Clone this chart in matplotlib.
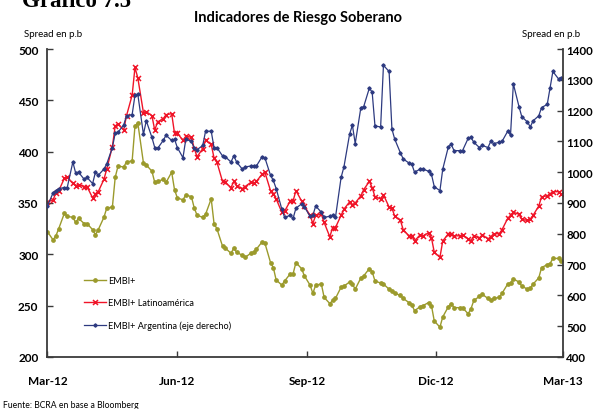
import numpy as np
import pandas as pd
import matplotlib
matplotlib.use("Agg")
import matplotlib.pyplot as plt

# values every second business day, Mar-2012 .. Mar-2013
embi = [322, 314, 318, 325, 340, 337, 336, 331, 335, 330,
        330, 324, 319, 324, 336, 345, 346, 375, 386, 385,
        390, 391, 425, 428, 389, 387, 381, 370, 371, 373,
        370, 380, 363, 355, 353, 358, 356, 345, 338, 336,
        339, 354, 330, 325, 308, 306, 301, 306, 302, 299,
        297, 301, 302, 305, 312, 311, 292, 287, 275, 270,
        274, 281, 281, 292, 286, 279, 270, 262, 270, 271,
        258, 252, 255, 257, 268, 269, 273, 271, 266, 277,
        279, 286, 283, 274, 272, 271, 266, 264, 262, 260,
        257, 253, 251, 245, 249, 250, 253, 250, 235, 229,
        239, 249, 252, 248, 248, 248, 242, 247, 255, 259,
        261, 257, 255, 257, 258, 262, 271, 272, 276, 273,
        269, 266, 267, 271, 277, 287, 290, 291, 296, 296,
        293]

latam = [351, 353, 360, 362, 374, 375, 369, 367, 368, 366,
         366, 355, 359, 361, 373, 383, 405, 425, 427, 421,
         435, 455, 482, 472, 438, 439, 435, 421, 429, 432,
         436, 437, 418, 418, 411, 415, 414, 403, 395, 403,
         411, 407, 394, 390, 371, 370, 365, 371, 367, 364,
         366, 370, 369, 371, 378, 380, 362, 359, 354, 341,
         342, 352, 352, 362, 352, 347, 338, 330, 338, 339,
         331, 317, 326, 326, 338, 344, 351, 348, 350, 357,
         363, 371, 365, 356, 354, 358, 346, 345, 337, 333,
         324, 318, 318, 313, 319, 318, 321, 316, 302, 297,
         313, 320, 320, 318, 318, 319, 315, 313, 318, 316,
         319, 315, 317, 320, 320, 324, 335, 338, 341, 339,
         334, 333, 334, 338, 347, 356, 357, 359, 361, 361,
         359]

argentina = [890, 933, 940, 947, 950, 950, 1033, 997, 1000, 977,
             983, 963, 1000, 990, 1010, 1027, 1080, 1127, 1130, 1153,
             1183, 1187, 1250, 1253, 1123, 1167, 1113, 1080, 1077, 1103,
             1120, 1103, 1107, 1080, 1047, 1107, 1100, 1077, 1073, 1087,
             1133, 1133, 1080, 1080, 1053, 1050, 1033, 1053, 1033, 1010,
             1017, 1020, 1020, 1020, 1050, 1047, 990, 973, 947, 880,
             853, 860, 850, 883, 897, 887, 857, 860, 890, 870,
             853, 857, 860, 853, 983, 1017, 1123, 1153, 1093, 1210,
             1213, 1273, 1260, 1150, 1147, 1347, 1327, 1140, 1107, 1063,
             1043, 1030, 1027, 1000, 1010, 1010, 1003, 993, 953, 940,
             1010, 1083, 1090, 1070, 1070, 1070, 1110, 1113, 1097, 1080,
             1087, 1080, 1100, 1093, 1097, 1100, 1133, 1120, 1287, 1213,
             1180, 1163, 1147, 1167, 1183, 1210, 1220, 1273, 1327, 1303,
             1307]

dates = pd.bdate_range("2012-03-01", "2013-03-01")[::2]

tick_dates = pd.to_datetime(["2012-03-01", "2012-06-01", "2012-09-01",
                             "2012-12-01", "2013-03-01"])
tick_labels = ["Mar-12", "Jun-12", "Sep-12", "Dic-12", "Mar-13"]

c_embi = "#9b9a2c"
c_latam = "#f01428"
c_arg = "#2d3a80"
spine_c = "#3a3a3a"
font = "Lato"

fig = plt.figure(figsize=(5.93, 4.10), dpi=100)
ax = fig.add_axes([0.080, 0.127, 0.869, 0.751])
ax2 = ax.twinx()

l1, = ax.plot(dates, embi, color=c_embi, lw=1.0, marker="o", ms=2.4,
              mec=c_embi, label="EMBI+")
l2, = ax.plot(dates, latam, color=c_latam, lw=1.0, marker="x", ms=3.6,
              mew=1.1, label="EMBI+ Latinoamérica")
l3, = ax2.plot(dates, argentina, color=c_arg, lw=0.9, marker="D", ms=1.7,
               label="EMBI+ Argentina (eje derecho)")

ax.set_xlim(tick_dates[0], tick_dates[-1])
ax.set_ylim(200, 500)
ax2.set_ylim(400, 1400)
ax.set_yticks(np.arange(200, 501, 50))
ax2.set_yticks(np.arange(400, 1401, 100))
ax.set_xticks(tick_dates)
ax.set_xticklabels(tick_labels)

for a in (ax, ax2):
    a.spines["top"].set_visible(False)
    for s in a.spines.values():
        s.set_color(spine_c)
        s.set_linewidth(1.3)
ax.spines["right"].set_visible(False)
ax2.spines["left"].set_visible(False)
ax2.spines["bottom"].set_visible(False)

ax.tick_params(axis="y", direction="in", length=4, width=1, color=spine_c,
               pad=6.5, labelsize=8.5)
ax.tick_params(axis="x", direction="in", length=4, width=1, color=spine_c,
               pad=13, labelsize=8.5)
ax2.tick_params(axis="y", direction="in", length=4, width=1, color=spine_c,
                pad=2.5, labelsize=8.3)
for lab in ax.get_xticklabels() + ax.get_yticklabels() + ax2.get_yticklabels():
    lab.set_fontweight("bold")
    lab.set_fontfamily(font)

leg = ax.legend(handles=[l1, l2, l3], loc="upper left",
                bbox_to_anchor=(0.055, 0.29), frameon=False,
                prop={"family": font, "size": 6.6}, handlelength=2.4,
                handletextpad=0.2, labelspacing=1.45, numpoints=1)

fig.text(0.503, 0.957, "Indicadores de Riesgo Soberano", ha="center",
         va="center", fontsize=10.5, fontweight="bold", family=font)
fig.text(0.040, 0.917, "Spread en p.b", ha="left", va="center",
         fontsize=7, family=font)
fig.text(0.880, 0.917, "Spread en p.b", ha="left", va="center",
         fontsize=7, family=font)
fig.text(0.005, 0.012, "Fuente: BCRA en base a Bloomberg", ha="left",
         va="center", fontsize=6.2, family=font)
fig.text(0.037, 0.982, "Gráfico 7.5", ha="left", va="baseline",
         fontsize=16.5, fontweight="bold", family="Liberation Serif")

fig.savefig("out.png", dpi=100)
